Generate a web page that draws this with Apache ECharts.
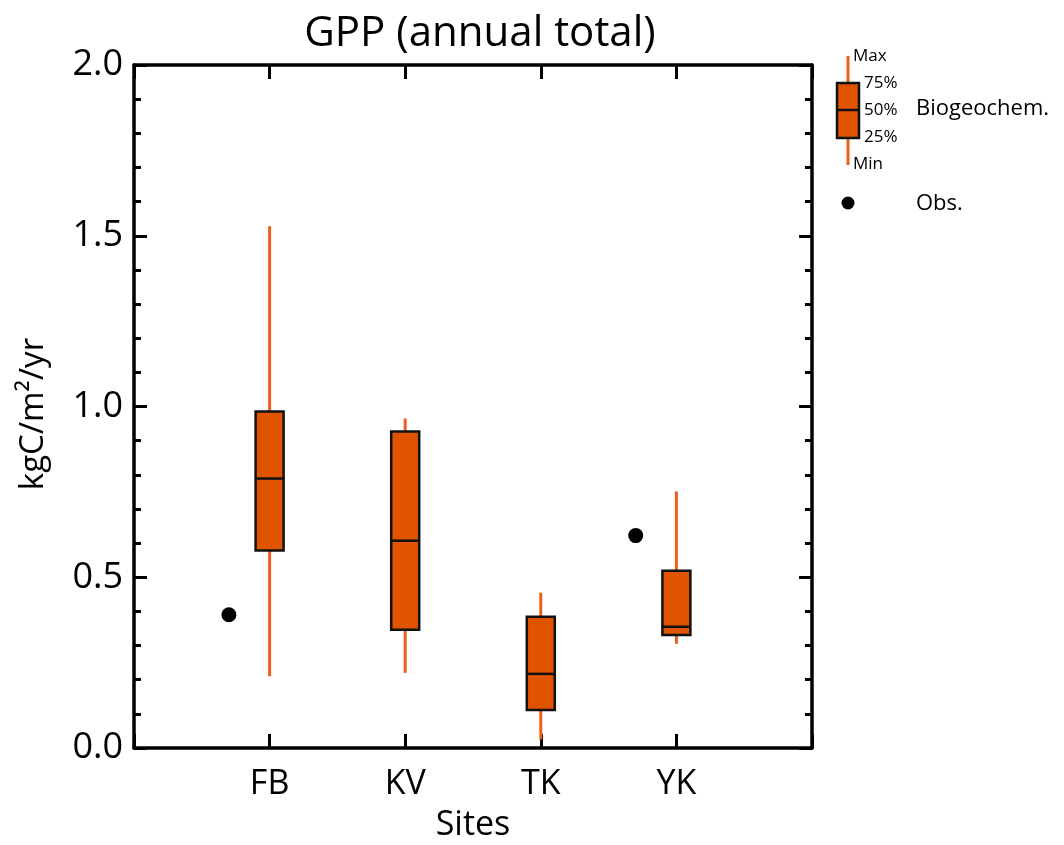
<!DOCTYPE html>
<html>
<head>
<meta charset="utf-8">
<script src="https://cdn.jsdelivr.net/npm/echarts@6/dist/echarts.min.js"></script>
<style>
  html, body { margin: 0; padding: 0; background: #fff; }
  #chart { width: 1064px; height: 845px; }
</style>
</head>
<body>
<div id="chart"></div>
<script>
// sites and their position on the x axis
var sites = ['FB', 'KV', 'TK', 'YK'];
var siteX = [1, 2, 3, 4];

// Biogeochem. model spread (kgC/m2/yr)
var boxMin    = [0.21, 0.22, 0.025, 0.305];
var boxQ1     = [0.578, 0.346, 0.111, 0.331];
var boxMedian = [0.789, 0.607, 0.217, 0.355];
var boxQ3     = [0.985, 0.927, 0.384, 0.519];
var boxMax    = [1.528, 0.965, 0.455, 0.751];

// observations (null = no obs at that site)
var obsValue = [0.39, null, null, 0.622];

var yTicks = [0, 0.5, 1.0, 1.5, 2.0];

var FONT = 'Open Sans';
var ORANGE = '#E05400';
var WHISKER = '#E8601A';
var obsOffset = -0.3;   // obs dot drawn left of the box
var boxHalf = 14;

var myChart = echarts.init(document.getElementById('chart'));

var boxData = [];
for (var i = 0; i < sites.length; i++) {
    boxData.push([siteX[i], boxMin[i], boxQ1[i], boxMedian[i], boxQ3[i], boxMax[i]]);
}
var obsData = [];
for (var i = 0; i < sites.length; i++) {
    if (obsValue[i] != null) obsData.push([siteX[i] + obsOffset, obsValue[i]]);
}

function renderBox(params, api) {
    var x = api.value(0);
    var pMin = api.coord([x, api.value(1)]);
    var pQ1 = api.coord([x, api.value(2)]);
    var pMed = api.coord([x, api.value(3)]);
    var pQ3 = api.coord([x, api.value(4)]);
    var pMax = api.coord([x, api.value(5)]);
    return {
        type: 'group',
        children: [
            {
                type: 'line',
                shape: { x1: pMin[0], y1: pMin[1], x2: pMax[0], y2: pMax[1] },
                style: { stroke: WHISKER, lineWidth: 3 }
            },
            {
                type: 'rect',
                shape: { x: pQ3[0] - boxHalf, y: pQ3[1], width: boxHalf * 2, height: pQ1[1] - pQ3[1] },
                style: { fill: ORANGE, stroke: '#111', lineWidth: 2.5 }
            },
            {
                type: 'line',
                shape: { x1: pMed[0] - boxHalf, y1: pMed[1], x2: pMed[0] + boxHalf, y2: pMed[1] },
                style: { stroke: '#111', lineWidth: 2.5 }
            }
        ]
    };
}

var axisLineStyle = { color: '#000', width: 3.5 };
var tickStyle = { color: '#000', width: 3 };

var option = {
    animation: false,
    backgroundColor: '#fff',
    title: {
        text: 'GPP (annual total)',
        left: 475,
        top: 8,
        textAlign: 'center',
        textStyle: { fontFamily: FONT, fontSize: 42, fontWeight: 'normal', color: '#000' }
    },
    grid: { left: 134, right: 252, top: 65, bottom: 97, outerBoundsMode: 'none', containLabel: false },
    xAxis: [
        {
            type: 'value',
            min: 0, max: 5, interval: 1,
            name: 'Sites',
            nameLocation: 'middle',
            nameGap: 60,
            nameTextStyle: { fontFamily: FONT, fontSize: 34, color: '#000' },
            axisLine: { onZero: false, lineStyle: axisLineStyle },
            axisTick: { inside: true, length: 14, lineStyle: tickStyle },
            splitLine: { show: false },
            axisLabel: {
                margin: 19,
                fontFamily: FONT, fontSize: 34, color: '#000',
                formatter: function (v) {
                    var k = siteX.indexOf(v);
                    return k >= 0 ? sites[k] : '';
                }
            }
        },
        {
            type: 'value',
            position: 'top',
            min: 0, max: 5, interval: 1,
            axisLine: { onZero: false, lineStyle: axisLineStyle },
            axisTick: { inside: true, length: 14, lineStyle: tickStyle },
            axisLabel: { show: false },
            splitLine: { show: false }
        }
    ],
    yAxis: [
        {
            type: 'value',
            min: yTicks[0], max: yTicks[yTicks.length - 1], interval: 0.5,
            axisLine: { show: true, onZero: false, lineStyle: axisLineStyle },
            axisTick: { show: true, inside: true, length: 13, lineStyle: tickStyle },
            minorTick: { show: true, splitNumber: 5, length: 7, lineStyle: tickStyle },
            splitLine: { show: false },
            axisLabel: {
                margin: 11,
                fontFamily: FONT, fontSize: 36, color: '#000',
                formatter: function (v) { return v.toFixed(1); }
            }
        },
        {
            type: 'value',
            position: 'right',
            min: yTicks[0], max: yTicks[yTicks.length - 1], interval: 0.5,
            axisLine: { show: true, onZero: false, lineStyle: axisLineStyle },
            axisTick: { show: true, inside: true, length: 13, lineStyle: tickStyle },
            minorTick: { show: true, splitNumber: 5, length: 7, lineStyle: tickStyle },
            splitLine: { show: false },
            axisLabel: { show: false }
        }
    ],
    series: [
        {
            name: 'Biogeochem.',
            type: 'custom',
            renderItem: renderBox,
            encode: { x: 0, y: [1, 2, 3, 4, 5] },
            data: boxData,
            z: 5
        },
        {
            name: 'Obs.',
            type: 'scatter',
            symbol: 'circle',
            symbolSize: 15,
            itemStyle: { color: '#000', opacity: 1 },
            data: obsData,
            z: 6
        }
    ],
    graphic: [
        {
            type: 'text',
            x: 34, y: 414,
            rotation: Math.PI / 2,
            style: { text: 'kgC/m²/yr', fontFamily: FONT, fontSize: 33, fill: '#000', textAlign: 'center', textVerticalAlign: 'middle' }
        },
        // legend glyph
        { type: 'line', shape: { x1: 848, y1: 56, x2: 848, y2: 165 }, style: { stroke: WHISKER, lineWidth: 3 } },
        { type: 'rect', shape: { x: 837, y: 83, width: 22, height: 55 }, style: { fill: ORANGE, stroke: '#111', lineWidth: 2.5 } },
        { type: 'line', shape: { x1: 837, y1: 110, x2: 859, y2: 110 }, style: { stroke: '#111', lineWidth: 2.5 } },
        { type: 'text', x: 853, y: 56, style: { text: 'Max', fontFamily: FONT, fontSize: 17, fill: '#000', textVerticalAlign: 'middle' } },
        { type: 'text', x: 864, y: 83, style: { text: '75%', fontFamily: FONT, fontSize: 17, fill: '#000', textVerticalAlign: 'middle' } },
        { type: 'text', x: 864, y: 110, style: { text: '50%', fontFamily: FONT, fontSize: 17, fill: '#000', textVerticalAlign: 'middle' } },
        { type: 'text', x: 864, y: 137, style: { text: '25%', fontFamily: FONT, fontSize: 17, fill: '#000', textVerticalAlign: 'middle' } },
        { type: 'text', x: 853, y: 164, style: { text: 'Min', fontFamily: FONT, fontSize: 17, fill: '#000', textVerticalAlign: 'middle' } },
        { type: 'text', x: 916, y: 109, style: { text: 'Biogeochem.', fontFamily: FONT, fontSize: 22, fill: '#000', textVerticalAlign: 'middle' } },
        { type: 'circle', shape: { cx: 848, cy: 203, r: 6.5 }, style: { fill: '#000' } },
        { type: 'text', x: 916, y: 204, style: { text: 'Obs.', fontFamily: FONT, fontSize: 22, fill: '#000', textVerticalAlign: 'middle' } }
    ]
};

myChart.setOption(option);
</script>
</body>
</html>
